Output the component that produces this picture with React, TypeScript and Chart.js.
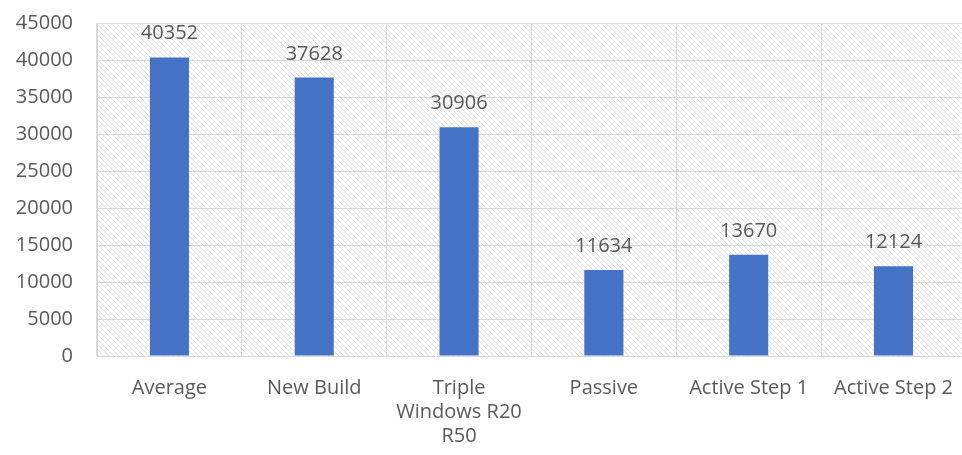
import React, { useEffect, useRef } from "react";
import { Chart, registerables } from "chart.js";

Chart.register(...registerables);

const categories: (string | string[])[] = [
  "Average",
  "New Build",
  ["Triple", "Windows R20", "R50"],
  "Passive",
  "Active Step 1",
  "Active Step 2",
];
const values: number[] = [40352, 37628, 30906, 11634, 13670, 12124];
const yMax = 45000;
const yStep = 5000;

const FONT = "'Open Sans', 'Noto Sans', sans-serif";
const FONT_SIZE = 20;
const TEXT = "#595959";
const GRID = "#d9d9d9";
const BAR = "#4472C4";

function makePattern(ctx: CanvasRenderingContext2D) {
  const c = document.createElement("canvas");
  const s = 5;
  c.width = s;
  c.height = s;
  const p = c.getContext("2d")!;
  p.fillStyle = "#ffffff";
  p.fillRect(0, 0, s, s);
  p.strokeStyle = "#e2e2e2";
  p.lineWidth = 1;
  p.beginPath();
  p.moveTo(-1, -1);
  p.lineTo(s + 1, s + 1);
  p.moveTo(-1 - s, -1);
  p.lineTo(1, s + 1);
  p.moveTo(s - 1, -1);
  p.lineTo(2 * s + 1, s + 1);
  p.stroke();
  return ctx.createPattern(c, "repeat");
}

const hatchPlugin = {
  id: "hatch",
  beforeDraw(chart: any) {
    const { ctx, chartArea } = chart;
    const pat = makePattern(ctx);
    if (!pat) return;
    ctx.save();
    ctx.fillStyle = pat;
    ctx.fillRect(chartArea.left, chartArea.top, chartArea.right - chartArea.left, chartArea.bottom - chartArea.top);
    ctx.restore();
  },
};

const labelPlugin = {
  id: "valueLabels",
  afterDatasetsDraw(chart: any) {
    const { ctx } = chart;
    const meta = chart.getDatasetMeta(0);
    ctx.save();
    ctx.font = `${FONT_SIZE}px ${FONT}`;
    ctx.fillStyle = TEXT;
    ctx.textAlign = "center";
    ctx.textBaseline = "alphabetic";
    meta.data.forEach((el: any, i: number) => {
      ctx.fillText(String(values[i]), el.x, el.y - 18);
    });
    ctx.restore();
  },
};

export default function App() {
  const ref = useRef<HTMLCanvasElement>(null);
  useEffect(() => {
    document.body.style.margin = "0";
    const chart = new Chart(ref.current!, {
      type: "bar",
      data: {
        labels: categories,
        datasets: [
          {
            data: values,
            backgroundColor: BAR,
            barPercentage: 0.27,
            categoryPercentage: 1,
          },
        ],
      },
      options: {
        animation: false,
        responsive: false,
        layout: { padding: { top: 0, right: 0, left: 0, bottom: 0 } },
        plugins: { legend: { display: false }, tooltip: { enabled: false } },
        scales: {
          x: {
            grid: { color: GRID, offset: true, drawTicks: false },
            border: { color: GRID },
            ticks: {
              color: TEXT,
              font: { family: FONT, size: FONT_SIZE },
              maxRotation: 0,
              autoSkip: false,
              padding: 20,
            },
            afterFit(scale: any) {
              scale.height = 99;
            },
          },
          y: {
            min: 0,
            max: yMax,
            grid: { color: GRID, drawTicks: false },
            border: { color: GRID },
            ticks: {
              stepSize: yStep,
              color: TEXT,
              font: { family: FONT, size: FONT_SIZE },
              padding: 24,
              callback: (v: any) => String(v),
            },
            afterFit(scale: any) {
              scale.width = 97;
            },
          },
        },
      },
      plugins: [hatchPlugin, labelPlugin],
    });
    return () => chart.destroy();
  }, []);
  return (
    <div style={{ position: "relative", width: 962, height: 455, overflow: "hidden", background: "#fff" }}>
      <canvas
        ref={ref}
        width={973}
        height={468}
        style={{ display: "block", position: "absolute", left: 0, top: -13 }}
      />
    </div>
  );
}
